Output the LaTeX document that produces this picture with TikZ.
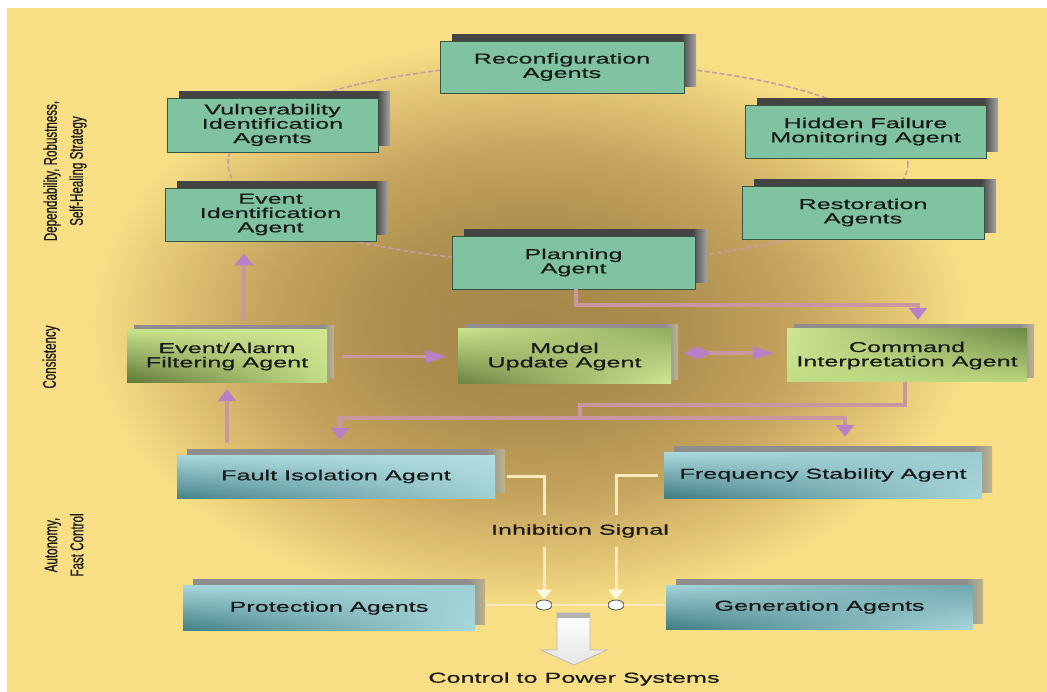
\documentclass[tikz,border=0pt]{standalone}
\usepackage{fontspec}
\setmainfont{Liberation Sans}
\newfontfamily\boxfont{Liberation Sans}[FakeStretch=1.75,FakeBold=0.6]
\newfontfamily\sidefont{Liberation Sans}[FakeStretch=0.63,FakeBold=0.5]
\usetikzlibrary{arrows.meta,shadings,shapes.geometric}

% palette
\definecolor{bgyellow}{HTML}{F8DF86}
\definecolor{glowA}{HTML}{A6864A}
\definecolor{glowB}{HTML}{AE8E4E}
\definecolor{glowC}{HTML}{C4A35E}
\definecolor{glowD}{HTML}{E3C575}
\definecolor{tealfill}{HTML}{7FC3A0}
\definecolor{tealedge}{HTML}{3A5444}
\definecolor{shA}{HTML}{444444}
\definecolor{shB}{HTML}{A5A5A5}
\definecolor{shC}{HTML}{8E8E8E}
\definecolor{shD}{HTML}{BDB48C}
\definecolor{pinkline}{HTML}{C8979F}
\definecolor{pinktip}{HTML}{B881C6}
\definecolor{ringcol}{HTML}{C99CA3}
\definecolor{inhcol}{HTML}{F5EBBE}
\definecolor{inhtipc}{HTML}{FFF9E0}
\definecolor{inkcol}{HTML}{1A1A1A}

% warm glow behind the middle of the chart
\pgfdeclareradialshading{bgglow}{\pgfpoint{0bp}{0bp}}{%
  color(0bp)=(glowA); color(8bp)=(glowB); color(15bp)=(glowC);
  color(21bp)=(glowD); color(25bp)=(bgyellow); color(50bp)=(bgyellow)}
% box shadows: flat body, fading band on the right edge
\pgfdeclarehorizontalshading{tealshadow}{100bp}{%
  color(0bp)=(shA); color(72bp)=(shA); color(75bp)=(shB); color(100bp)=(shB)}
\pgfdeclarehorizontalshading{softshadow}{100bp}{%
  color(0bp)=(shC); color(72bp)=(shC); color(75bp)=(shD); color(100bp)=(shD)}

\newcommand\boxtext{\boxfont\fontsize{14.4pt}{14.3pt}\selectfont\lineskiplimit=-30pt\lineskip=0pt\relax}
\newcommand\sidetext{\sidefont\fontsize{18.4pt}{26pt}\selectfont\lineskiplimit=-30pt\lineskip=0pt\relax}

\begin{document}
\begin{tikzpicture}[x=1pt,y=-1pt,
  wh/.style 2 args={minimum width=#1, minimum height=#2},
  agentbase/.style={inner sep=0pt, align=center, text=inkcol, font=\boxtext},
  tealbox/.style={agentbase, draw=tealedge, line width=0.9pt, fill=tealfill,
    preaction={shade, shading=tealshadow, draw=none,
      transform canvas={shift={(12pt,6pt)}}}},
  greenbox/.style={agentbase, shade, shading=bilinear interpolation,
    preaction={shade, shading=softshadow, draw=none,
      transform canvas={shift={(7pt,4pt)}}}},
  cyanbox/.style={agentbase, shade, shading=bilinear interpolation,
    preaction={shade, shading=softshadow, draw=none,
      transform canvas={shift={(10pt,6pt)}}}},
  sidelab/.style={rotate=90, align=center, inner sep=0pt, text=inkcol, font=\sidetext},
  plaintext/.style={inner sep=0pt, text=inkcol, font=\boxtext},
  ring/.style={draw=ringcol, line width=1.6pt, dash pattern=on 5pt off 2.5pt},
  pk/.style={draw=pinkline, line width=3.5pt},
  pkv/.style={-{Triangle[length=12pt,width=18pt,color=pinktip]}},
  pkh/.style={-{Triangle[length=22pt,width=12pt,color=pinktip]}},
  inh/.style={draw=inhcol, line width=3pt},
  inhv/.style={-{Triangle[length=10pt,width=15pt,color=inhtipc]}},
  switch/.style={ellipse, draw=gray!60!black, fill=white, line width=0.8pt,
    minimum width=16pt, minimum height=10pt, inner sep=0pt},
  bigarrow/.style={draw=gray!55, line width=0.8pt, top color=white, bottom color=gray!20}
]
\useasboundingbox (0,0) rectangle (1047,692);

% backdrop
\fill[white] (0,0) rectangle (1047,692);
\fill[bgyellow] (7,8) rectangle (1047,692);
\shade[shading=bgglow] (90,40) rectangle (970,610);

% self-healing ring behind the strategy agents
\draw[ring] (568,163) ellipse [x radius=340, y radius=100];

% layer labels
\node[sidelab] (lab1) at (65,171) {Dependability, Robustness,\\Self-Healing Strategy};
\node[sidelab] (lab2) at (51,357) {Consistency};
\node[sidelab] (lab3) at (64,545) {Autonomy,\\Fast Control};

% strategy agents
\node[tealbox, wh={244pt}{52pt}] (reconf) at (562,67) {Reconfiguration\\Agents};
\node[tealbox, wh={211pt}{54pt}] (vuln) at (272.5,125) {Vulnerability\\Identification\\Agents};
\node[tealbox, wh={211pt}{53pt}] (evid) at (270.5,214.5) {Event\\Identification\\Agent};
\node[tealbox, wh={241pt}{53pt}] (hidden) at (865.5,131.5) {Hidden Failure\\Monitoring Agent};
\node[tealbox, wh={242pt}{53pt}] (restor) at (863,212.5) {Restoration\\Agents};
\node[tealbox, wh={243pt}{53pt}] (plan) at (573.5,262.5) {Planning\\Agent};

% consistency agents
\node[greenbox, wh={200pt}{53pt},
  upper left={rgb,255:red,198;green,224;blue,138}, upper right={rgb,255:red,208;green,231;blue,146},
  lower left={rgb,255:red,95;green,117;blue,56}, lower right={rgb,255:red,196;green,221;blue,134}]
  (alarm) at (227,356.5) {Event/Alarm\\Filtering Agent};
\node[greenbox, wh={213pt}{55pt},
  upper left={rgb,255:red,201;green,226;blue,140}, upper right={rgb,255:red,147;green,174;blue,98},
  lower left={rgb,255:red,106;green,129;blue,64}, lower right={rgb,255:red,210;green,232;blue,148}]
  (model) at (564.5,356.5) {Model\\Update Agent};
\node[greenbox, wh={240pt}{53pt},
  upper left={rgb,255:red,207;green,231;blue,146}, upper right={rgb,255:red,109;green,138;blue,69},
  lower left={rgb,255:red,194;green,220;blue,134}, lower right={rgb,255:red,187;green,213;blue,127}]
  (cmd) at (907,355.5) {Command\\Interpretation Agent};

% fast-control agents
\node[cyanbox, wh={318pt}{43pt},
  upper left={rgb,255:red,169;green,216;blue,220}, upper right={rgb,255:red,178;green,222;blue,226},
  lower left={rgb,255:red,71;green,131;blue,138}, lower right={rgb,255:red,160;green,208;blue,213}]
  (fault) at (336,476.5) {Fault Isolation Agent};
\node[cyanbox, wh={318pt}{46pt},
  upper left={rgb,255:red,172;green,218;blue,222}, upper right={rgb,255:red,154;green,203;blue,208},
  lower left={rgb,255:red,63;green,123;blue,130}, lower right={rgb,255:red,168;green,215;blue,219}]
  (freq) at (823,475) {Frequency Stability Agent};
\node[cyanbox, wh={292pt}{45pt},
  upper left={rgb,255:red,167;green,215;blue,219}, upper right={rgb,255:red,156;green,207;blue,212},
  lower left={rgb,255:red,65;green,126;blue,133}, lower right={rgb,255:red,169;green,216;blue,220}]
  (prot) at (329,608) {Protection Agents};
\node[cyanbox, wh={307pt}{44pt},
  upper left={rgb,255:red,165;green,213;blue,217}, upper right={rgb,255:red,111;green,166;blue,173},
  lower left={rgb,255:red,63;green,124;blue,131}, lower right={rgb,255:red,168;green,215;blue,219}]
  (gen) at (819.5,607) {Generation Agents};

% free texts
\node[plaintext] (sig) at (580,531) {Inhibition Signal};
\node[plaintext] (ctrl) at (574,679) {Control to Power Systems};

% information flow
\draw[pk, pkv] ([xshift=17pt,yshift=9pt]alarm.north) -- ([xshift=-26.5pt,yshift=-12pt]evid.south);
\draw[pk, pkv] ([xshift=-109pt,yshift=12pt]fault.north) -- ([yshift=-6pt]alarm.south);
\draw[pk, pkh] ([xshift=15pt]alarm.east) -- ([xshift=-10pt]model.west);
\draw[pk, {Diamond[length=28pt,width=13pt,color=pinktip]}-{Triangle[length=22pt,width=12pt,color=pinktip]}]
  ([xshift=12pt,yshift=3.5pt]model.east) -- ([xshift=-12pt,yshift=2.5pt]cmd.west);
\draw[pk, pkv, line join=miter] ([xshift=2.5pt]plan.south) |- ([xshift=11pt,yshift=24pt]cmd.north)
  -- ([xshift=11pt,yshift=9pt]cmd.north);
\coordinate (jn) at ([xshift=-327pt,yshift=-36pt]cmd.south);
\draw[pk, pkv] ([xshift=-2pt]cmd.south) |- ([xshift=-327pt,yshift=-23pt]cmd.south)
  -- (jn) -| ([xshift=4pt,yshift=15pt]fault.north);
\draw[pk, pkv] (jn) -| ([xshift=22pt,yshift=15pt]freq.north);

% inhibition path and switches
\node[switch] (swL) at (544,605) {};
\node[switch] (swR) at (616,605) {};
\coordinate (pe) at ([xshift=11pt]prot.east);
\draw[inhcol, line width=2pt] (pe |- swL) -- (swL.west);
\draw[inhcol, line width=2pt] (swL.east) -- (swR.west);
\draw[inhcol, line width=2pt] (swR.east) -- (gen.west |- swR);
\draw[inh] ([xshift=12pt]fault.east) -| ([xshift=-36pt,yshift=16pt]sig.center);
\draw[inh] ([xshift=-6pt]freq.west) -| ([xshift=36pt,yshift=16pt]sig.center);
\draw[inh, inhv] ([xshift=-36pt,yshift=-16pt]sig.center) -- (swL.north);
\draw[inh, inhv] ([xshift=36pt,yshift=-16pt]sig.center) -- (swR.north);

% output arrow to the power system
\path[bigarrow] (557,613) -- (590,613) -- (590,650) -- (607,650) -- (574,665)
  -- (541,650) -- (557,650) -- cycle;
\fill[gray!60] (557.4,613.4) rectangle (589.6,618);
\end{tikzpicture}
\end{document}
